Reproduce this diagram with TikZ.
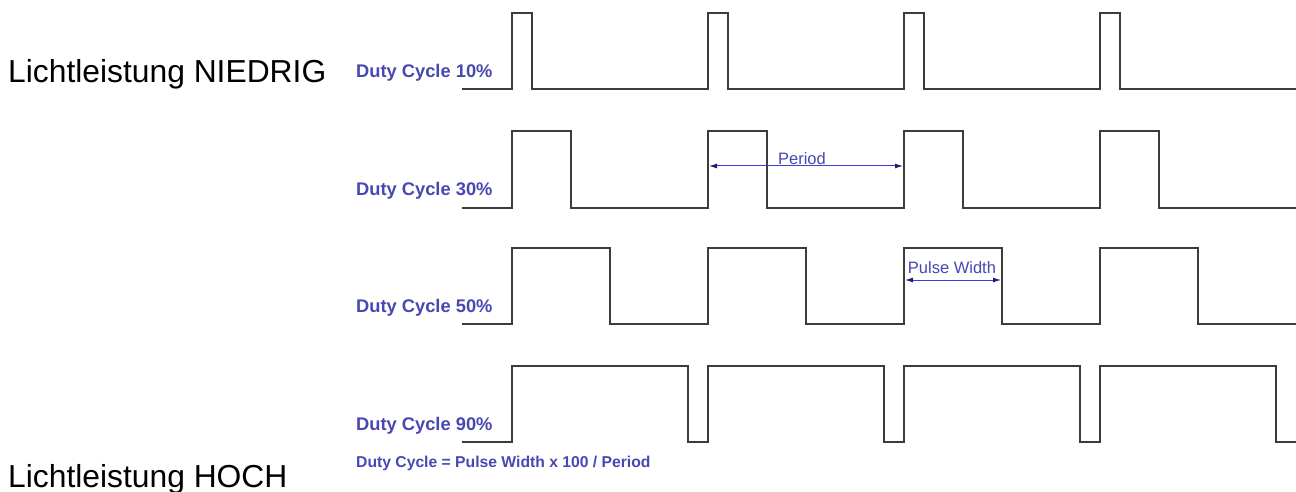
\documentclass[tikz,border=0pt]{standalone}
\usepackage{fontspec}
\setmainfont{Liberation Sans}
\usetikzlibrary{arrows.meta}
\definecolor{wavegrey}{RGB}{60,60,60}
\definecolor{lblblue}{RGB}{72,72,178}
\definecolor{arrblue}{RGB}{60,60,215}
\definecolor{headblue}{RGB}{30,30,120}
\tikzset{
  wave/.style={draw=wavegrey, line width=2.4pt, line join=miter},
  dutylbl/.style={anchor=base west, inner sep=0pt, text=lblblue, font=\bfseries\fontsize{18.3}{21}\selectfont},
  formlbl/.style={anchor=base west, inner sep=0pt, text=lblblue, font=\bfseries\fontsize{15.7}{18}\selectfont},
  dimlbl/.style={anchor=center, inner sep=0pt, text=lblblue, font=\fontsize{16.5}{19}\selectfont},
  biglbl/.style={anchor=base west, inner sep=0pt, text=black, font=\fontsize{31.8}{36}\selectfont},
  dimarrow/.style={draw=arrblue, line width=1pt, {Latex[length=8pt,width=5pt,color=headblue]}-{Latex[length=8pt,width=5pt,color=headblue]}}
}
\begin{document}
\begin{tikzpicture}[x=1pt,y=-1pt]
\useasboundingbox (0,0) rectangle (1296,492);
\fill[white] (0,0) rectangle (1296,492);

% waveforms: low y, high y, pulse width
\foreach \L/\H/\W in {89/13/20, 208/131/59, 324/248/98, 442/366/176}{
  \draw[wave] (462,\L)
    \foreach \k in {0,1,2,3}{
      -- ({512+196*\k},\L) -- ({512+196*\k},\H) -- ({512+196*\k+\W},\H) -- ({512+196*\k+\W},\L)
    } -- (1296,\L);
}

% edge coordinates for dimension arrows
\coordinate (pA) at (709,166);
\coordinate (pB) at (903,166);
\coordinate (wA) at (905,280);
\coordinate (wB) at (1001,280);

\draw[dimarrow] (pA) -- (pB);
\draw[dimarrow] (wA) -- (wB);

\node[dimlbl] (period) at (802,159) {Period};
\node[dimlbl] (pulsewidth) at (952,268) {Pulse Width};

\node[dutylbl] (d10) at (356,78) {Duty Cycle 10\%};
\node[dutylbl] (d30) at (356,195) {Duty Cycle 30\%};
\node[dutylbl] (d50) at (356,312) {Duty Cycle 50\%};
\node[dutylbl] (d90) at (356,430) {Duty Cycle 90\%};
\node[formlbl] (formula) at (356,467) {Duty Cycle = Pulse Width x 100 / Period};

\node[biglbl] (low) at (8,83) {Lichtleistung NIEDRIG};
\node[biglbl] (high) at (8,487) {Lichtleistung HOCH};
\end{tikzpicture}
\end{document}
